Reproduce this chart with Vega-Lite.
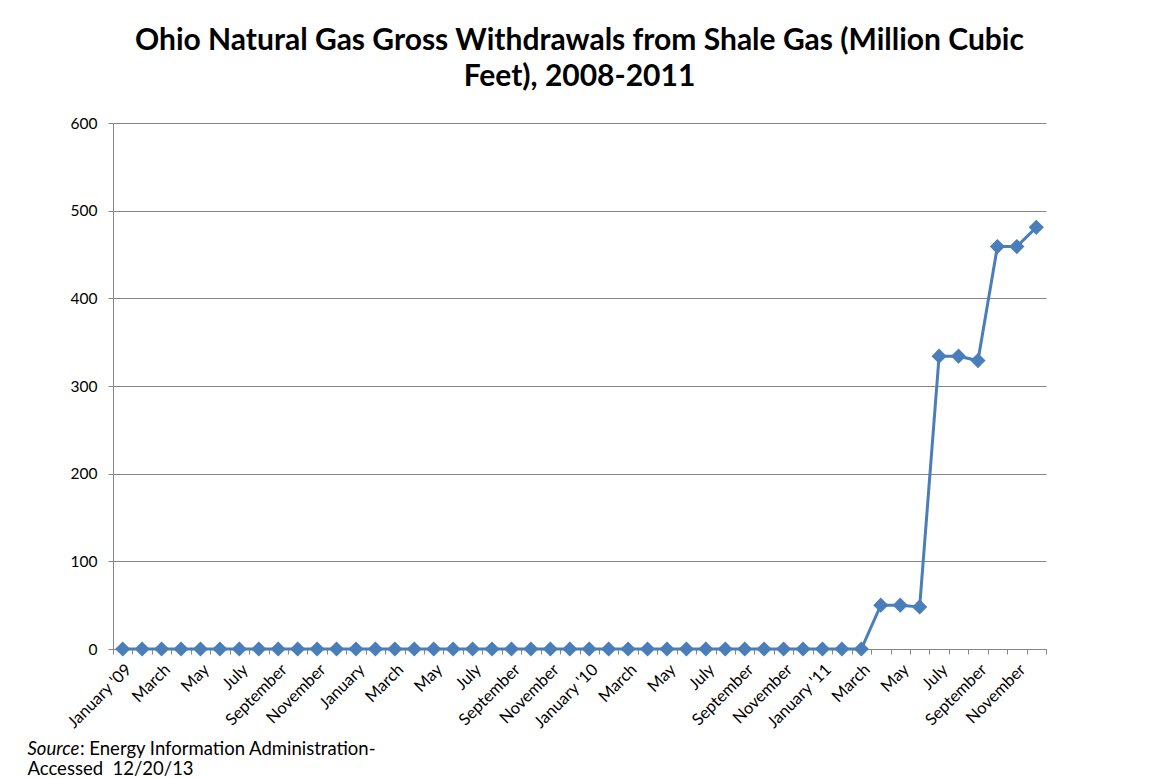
{
  "$schema": "https://vega.github.io/schema/vega-lite/v6.json",
  "width": 933,
  "height": 526,
  "autosize": "none",
  "padding": {"left": 113, "top": 123, "right": 105, "bottom": 129},
  "background": "white",
  "title": {
    "text": ["Ohio Natural Gas Gross Withdrawals from Shale Gas (Million Cubic", "Feet), 2008-2011"],
    "font": "Lato",
    "fontSize": 30,
    "fontWeight": "bold",
    "color": "#000000",
    "lineHeight": 36,
    "anchor": "middle",
    "frame": "group",
    "offset": 24
  },
  "datasets": {
    "rows": [
      {"idx": 1, "month": "January '09", "mmcf": 0},
      {"idx": 2, "month": "February", "mmcf": 0},
      {"idx": 3, "month": "March", "mmcf": 0},
      {"idx": 4, "month": "April", "mmcf": 0},
      {"idx": 5, "month": "May", "mmcf": 0},
      {"idx": 6, "month": "June", "mmcf": 0},
      {"idx": 7, "month": "July", "mmcf": 0},
      {"idx": 8, "month": "August", "mmcf": 0},
      {"idx": 9, "month": "September", "mmcf": 0},
      {"idx": 10, "month": "October", "mmcf": 0},
      {"idx": 11, "month": "November", "mmcf": 0},
      {"idx": 12, "month": "December", "mmcf": 0},
      {"idx": 13, "month": "January", "mmcf": 0},
      {"idx": 14, "month": "February", "mmcf": 0},
      {"idx": 15, "month": "March", "mmcf": 0},
      {"idx": 16, "month": "April", "mmcf": 0},
      {"idx": 17, "month": "May", "mmcf": 0},
      {"idx": 18, "month": "June", "mmcf": 0},
      {"idx": 19, "month": "July", "mmcf": 0},
      {"idx": 20, "month": "August", "mmcf": 0},
      {"idx": 21, "month": "September", "mmcf": 0},
      {"idx": 22, "month": "October", "mmcf": 0},
      {"idx": 23, "month": "November", "mmcf": 0},
      {"idx": 24, "month": "December", "mmcf": 0},
      {"idx": 25, "month": "January '10", "mmcf": 0},
      {"idx": 26, "month": "February", "mmcf": 0},
      {"idx": 27, "month": "March", "mmcf": 0},
      {"idx": 28, "month": "April", "mmcf": 0},
      {"idx": 29, "month": "May", "mmcf": 0},
      {"idx": 30, "month": "June", "mmcf": 0},
      {"idx": 31, "month": "July", "mmcf": 0},
      {"idx": 32, "month": "August", "mmcf": 0},
      {"idx": 33, "month": "September", "mmcf": 0},
      {"idx": 34, "month": "October", "mmcf": 0},
      {"idx": 35, "month": "November", "mmcf": 0},
      {"idx": 36, "month": "December", "mmcf": 0},
      {"idx": 37, "month": "January '11", "mmcf": 0},
      {"idx": 38, "month": "February", "mmcf": 0},
      {"idx": 39, "month": "March", "mmcf": 0},
      {"idx": 40, "month": "April", "mmcf": 50},
      {"idx": 41, "month": "May", "mmcf": 50},
      {"idx": 42, "month": "June", "mmcf": 48},
      {"idx": 43, "month": "July", "mmcf": 334},
      {"idx": 44, "month": "August", "mmcf": 334},
      {"idx": 45, "month": "September", "mmcf": 329},
      {"idx": 46, "month": "October", "mmcf": 459},
      {"idx": 47, "month": "November", "mmcf": 459},
      {"idx": 48, "month": "December", "mmcf": 481}
    ]
  },
  "data": {"name": "rows"},
  "config": {
    "view": {"stroke": null},
    "axis": {
      "labelFont": "Lato",
      "labelColor": "#000000",
      "titleFont": "Lato",
      "titleColor": "#000000",
      "titleFontWeight": "normal",
      "domainColor": "#868686",
      "tickColor": "#868686",
      "gridColor": "#868686",
      "domainWidth": 1,
      "tickWidth": 1,
      "gridWidth": 1
    }
  },
  "encoding": {
    "x": {
      "field": "idx",
      "type": "ordinal",
      "scale": {"paddingInner": 0, "paddingOuter": 0},
      "axis": {
        "labelExpr": "datum.value % 2 == 1 ? data('rows')[datum.value - 1].month : ''",
        "labelAngle": -45,
        "labelFontSize": 16.5,
        "labelPadding": 7,
        "labelOverlap": false,
        "tickBand": "extent",
        "tickSize": 5,
        "grid": false,
        "title": ": Energy Information Administration-",
        "titleFontSize": 18.5,
        "titleAlign": "left",
        "titleBaseline": "alphabetic",
        "titleAngle": 0,
        "titleX": -33.5,
        "titleY": 105
      }
    },
    "y": {
      "field": "mmcf",
      "type": "quantitative",
      "scale": {"domain": [0, 600], "nice": false},
      "axis": {
        "values": [0, 100, 200, 300, 400, 500, 600],
        "labelFontSize": 15.5,
        "tickSize": 5,
        "labelPadding": 11,
        "grid": true,
        "title": "Source",
        "titleFontSize": 18.5,
        "titleFontStyle": "italic",
        "titleAngle": 0,
        "titleAlign": "left",
        "titleBaseline": "alphabetic",
        "titleX": -86,
        "titleY": 631
      }
    }
  },
  "layer": [
    {
      "mark": {"type": "line", "color": "#4A7EBB", "strokeWidth": 3}
    },
    {
      "mark": {"type": "point", "shape": "diamond", "filled": true, "size": 230, "color": "#4A7EBB", "opacity": 1},
      "encoding": {
        "y": {
          "field": "mmcf",
          "type": "quantitative",
          "axis": {
            "orient": "right",
            "labels": false,
            "ticks": false,
            "domain": false,
            "grid": false,
            "title": "Accessed\u00a0\u00a012/20/13",
            "titleFontSize": 18.5,
            "titleAngle": 0,
            "titleAlign": "left",
            "titleBaseline": "alphabetic",
            "titleX": -1019,
            "titleY": 651
          }
        }
      }
    }
  ],
  "resolve": {"axis": {"y": "independent"}}
}
